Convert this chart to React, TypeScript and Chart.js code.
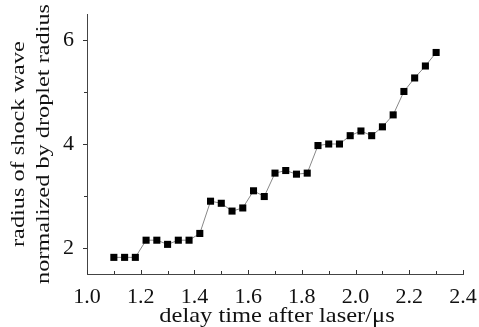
import React, { useEffect, useRef } from 'react';
import { Chart, registerables } from 'chart.js';

Chart.register(...registerables);

const delayTimes = [1.10, 1.14, 1.18, 1.22, 1.26, 1.30, 1.34, 1.38, 1.42, 1.46, 1.50, 1.54, 1.58, 1.62, 1.66, 1.70, 1.74, 1.78, 1.82, 1.86, 1.90, 1.94, 1.98, 2.02, 2.06, 2.10, 2.14, 2.18, 2.22, 2.26, 2.30];
const shockRadius = [1.82, 1.82, 1.82, 2.15, 2.15, 2.07, 2.15, 2.15, 2.28, 2.90, 2.86, 2.71, 2.77, 3.10, 2.99, 3.44, 3.49, 3.42, 3.44, 3.97, 4.00, 4.00, 4.16, 4.25, 4.16, 4.33, 4.56, 5.01, 5.27, 5.50, 5.76];

const xTickValues = [1.0, 1.1, 1.2, 1.3, 1.4, 1.5, 1.6, 1.7, 1.8, 1.9, 2.0, 2.1, 2.2, 2.3, 2.4];
const xTickLabels = ['1.0', '', '1.2', '', '1.4', '', '1.6', '', '1.8', '', '2.0', '', '2.2', '', '2.4'];
const yTickValues = [2, 3, 4, 5, 6];
const yTickLabels = ['2', '', '4', '', '6'];

const xTitle = 'delay time after laser/\u03bcs';
const yTitleLines = ['radius of shock wave', 'normalized by droplet radius'];

const FONT = "'Liberation Serif', 'Times New Roman', serif";

export default function App() {
  const ref = useRef<HTMLCanvasElement | null>(null);

  useEffect(() => {
    if (!ref.current) return;
    const axisPlugin = {
      id: 'customAxes',
      afterDraw(chart: any) {
        const ctx = chart.ctx;
        const xs = chart.scales.x;
        const ys = chart.scales.y;
        const area = chart.chartArea;
        ctx.save();
        ctx.strokeStyle = '#333';
        ctx.lineWidth = 1;
        xTickValues.forEach((v, i) => {
          const px = Math.round(xs.getPixelForValue(v)) + 0.5;
          const len = xTickLabels[i] ? 4 : 3;
          ctx.beginPath();
          ctx.moveTo(px, area.bottom);
          ctx.lineTo(px, area.bottom - len);
          ctx.stroke();
        });
        yTickValues.forEach((v, i) => {
          const py = Math.round(ys.getPixelForValue(v)) + 0.5;
          const len = yTickLabels[i] ? 4 : 3;
          ctx.beginPath();
          ctx.moveTo(area.left, py);
          ctx.lineTo(area.left - len, py);
          ctx.stroke();
        });
        ctx.fillStyle = '#111';
        ctx.textBaseline = 'alphabetic';
        // x title
        ctx.save();
        ctx.font = `21px ${FONT}`;
        ctx.textAlign = 'center';
        ctx.translate(277, 322);
        ctx.scale(1.166, 1);
        ctx.fillText(xTitle, 0, 0);
        ctx.restore();
        // y title
        ctx.font = `18px ${FONT}`;
        ctx.textAlign = 'left';
        const baseX = [24, 49];
        const startY = [247, 284];
        yTitleLines.forEach((t, i) => {
          ctx.save();
          ctx.translate(baseX[i], startY[i]);
          ctx.rotate(-Math.PI / 2);
          ctx.scale(1.35, 1);
          ctx.fillText(t, 0, 0);
          ctx.restore();
        });
        ctx.restore();
      },
    };

    const chart = new Chart(ref.current, {
      type: 'scatter',
      data: {
        datasets: [
          {
            data: delayTimes.map((x, i) => ({ x, y: shockRadius[i] })),
            showLine: true,
            borderColor: '#888',
            borderWidth: 1,
            pointStyle: 'rect',
            pointRadius: 5,
            pointBackgroundColor: '#000',
            pointBorderColor: '#000',
            pointBorderWidth: 0,
          },
        ],
      },
      options: {
        responsive: false,
        animation: false,
        events: [],
        layout: { padding: { top: 14, right: 16, left: 0, bottom: 0 } },
        plugins: { legend: { display: false }, tooltip: { enabled: false } },
        scales: {
          x: {
            type: 'linear',
            min: 1.0,
            max: 2.4,
            afterBuildTicks: (s: any) => {
              s.ticks = xTickValues.map((v) => ({ value: v }));
            },
            afterFit: (s: any) => {
              s.height = 53;
              s.paddingLeft = 0;
              s.paddingRight = 0;
            },
            ticks: {
              autoSkip: false,
              maxRotation: 0,
              padding: 2,
              color: '#111',
              font: { family: FONT, size: 22 },
              callback: (_v: any, i: number) => xTickLabels[i],
            },
            grid: { display: false },
            border: { display: true, color: '#444', width: 1 },
          },
          y: {
            type: 'linear',
            min: 1.5,
            max: 6.5,
            afterBuildTicks: (s: any) => {
              s.ticks = yTickValues.map((v) => ({ value: v }));
            },
            afterFit: (s: any) => {
              s.width = 87;
              s.paddingTop = 0;
              s.paddingBottom = 0;
            },
            ticks: {
              autoSkip: false,
              padding: 5,
              color: '#111',
              font: { family: FONT, size: 22 },
              callback: (_v: any, i: number) => yTickLabels[i],
            },
            grid: { display: false },
            border: { display: true, color: '#444', width: 1 },
          },
        },
      },
      plugins: [axisPlugin],
    });
    return () => chart.destroy();
  }, []);

  return (
    <div style={{ position: 'absolute', left: 0, top: 0, width: 479, height: 327, background: '#fff' }}>
      <canvas ref={ref} width={479} height={327} />
    </div>
  );
}
